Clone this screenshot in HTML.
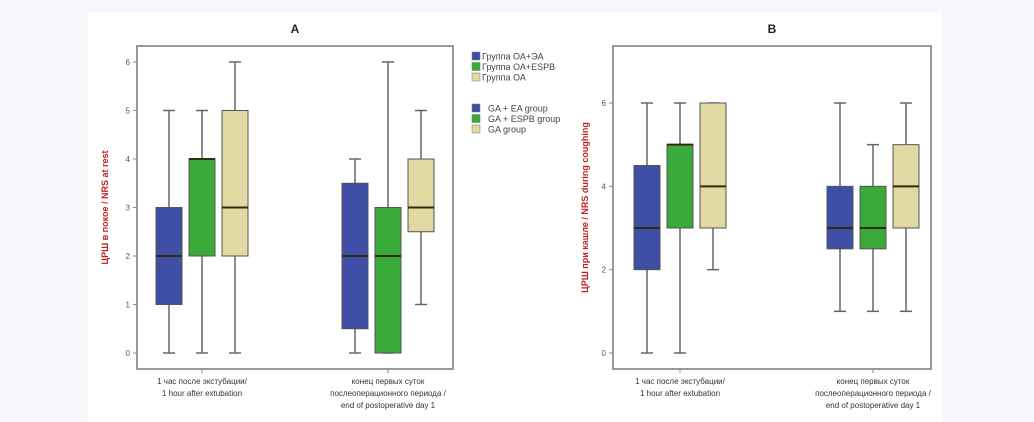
<!DOCTYPE html>
<html><head><meta charset="utf-8"><style>
body{margin:0;background:#f7f7fb;}
svg{display:block;font-family:"Liberation Sans","DejaVu Sans",sans-serif;}
</style></head><body>
<svg id="c" width="1034" height="422" viewBox="0 0 1034 422">
<rect x="88" y="12" width="854" height="410" fill="#ffffff"/>
</svg>
<script>
const categories = ["1 час после экстубации/|1 hour after extubation", "конец первых суток|послеоперационного периода /|end of postoperative day 1"];
const groupColors = ["#3f4fa6", "#3aaa3a", "#e2d8a2"];
// [min, q1, median, q3, max] per category per group
const restBlue = [[0,1,2,3,5],[0,0.5,2,3.5,4]];
const restGreen = [[0,2,4,4,5],[0,0,2,3,6]];
const restTan = [[0,2,3,5,6],[1,2.5,3,4,5]];
const coughBlue = [[0,2,3,4.5,6],[1,2.5,3,4,6]];
const coughGreen = [[0,3,5,5,6],[1,2.5,3,4,5]];
const coughTan = [[2,3,4,6,6],[1,3,4,5,6]];
const ticksA = [0,1,2,3,4,5,6];
const ticksB = [0,2,4,6];
const legendRu = ["Группа ОА+ЭА","Группа ОА+ESPB","Группа ОА"];
const legendEn = ["GA + EA group","GA + ESPB group","GA group"];

const svg = document.getElementById('c');
const NS = 'http://www.w3.org/2000/svg';
function mk(tag, attrs, parent){const e=document.createElementNS(NS,tag);for(const k in attrs)e.setAttribute(k,attrs[k]);(parent||svg).appendChild(e);return e;}

function panel(p){
  const g = mk('g',{});
  
  
  const y = v => p.y0 - (v - p.vmin)/(p.vmax - p.vmin)*(p.y0 - p.y1);
  const fr = mk('rect',{x:p.left,y:p.top,width:p.right-p.left,height:p.bottom-p.top,fill:'none',stroke:'#999',"stroke-width":2},g);
  
  
  const t = mk('text',{x:(p.left+p.right)/2,y:33,"text-anchor":"middle","font-size":12,"font-weight":"bold",fill:"#222"},g);
  t.textContent = p.title;
  
  
  p.ticks.forEach(v=>{
    mk('line',{x1:p.left-4,x2:p.left,y1:y(v),y2:y(v),stroke:'#888'},g);
    const tl = mk('text',{x:p.left-7,y:y(v)+3,"text-anchor":"end","font-size":8,fill:"#555"},g);
    tl.textContent = v;
    
    
  });
  const yt = mk('text',{transform:`translate(${p.ytx},${(p.top+p.bottom)/2}) rotate(-90)`,"text-anchor":"middle","font-size":9,"font-weight":"bold",fill:"#b22"},g);
  yt.textContent = p.ytitle;
  
  
  categories.forEach((c,ci)=>{
    const cx = p.centers[ci];
    mk('line',{x1:cx,x2:cx,y1:p.bottom,y2:p.bottom+4,stroke:'#888'},g);
    c.split('|').forEach((ln,li)=>{
      const xl = mk('text',{x:cx,y:p.bottom+15+li*12,"text-anchor":"middle","font-size":8,fill:"#333"},g);
      xl.textContent = ln;
      
      
    });
    p.series.forEach((s,si)=>{
      const d = s[ci];
      const bx = cx + (si-1)*p.gap - p.bw/2, mx = bx + p.bw/2;
      const bg = mk('g',{},g);
      
      
      mk('line',{x1:mx,x2:mx,y1:y(d[0]),y2:y(d[4]),stroke:'#666',"stroke-width":1.5},bg);
      mk('line',{x1:mx-6,x2:mx+6,y1:y(d[0]),y2:y(d[0]),stroke:'#666',"stroke-width":1.5},bg);
      mk('line',{x1:mx-6,x2:mx+6,y1:y(d[4]),y2:y(d[4]),stroke:'#666',"stroke-width":1.5},bg);
      mk('rect',{x:bx,y:y(d[3]),width:p.bw,height:Math.max(0.5,y(d[1])-y(d[3])),fill:groupColors[si],stroke:'#555',"stroke-width":1},bg);
      mk('line',{x1:bx,x2:bx+p.bw,y1:y(d[2]),y2:y(d[2]),stroke:'#332a10',"stroke-width":2},bg);
    });
  });
}
panel({name:'panel-a',title:'A',left:137,right:453,top:46,bottom:369,vmin:0,vmax:6,y0:353,y1:62,ticks:ticksA,
  ytx:108,ytitle:'ЦРШ в покое / NRS at rest',centers:[202,388],gap:33,bw:26,series:[restBlue,restGreen,restTan]});
panel({name:'panel-b',title:'B',left:613,right:931,top:46,bottom:369,vmin:0,vmax:6,y0:353,y1:103,ticks:ticksB,
  ytx:588,ytitle:'ЦРШ при кашле / NRS during coughing',centers:[680,873],gap:33,bw:26,series:[coughBlue,coughGreen,coughTan]});

function legend(labels, y0, name, dx){
  const g = mk('g',{});
  
  
  labels.forEach((l,i)=>{
    const e = mk('g',{},g);
    
    
    mk('rect',{x:472,y:y0+i*10.5,width:8,height:8,fill:groupColors[i],stroke:'#777',"stroke-width":0.5},e);
    const t = mk('text',{x:472+dx,y:y0+i*10.5+7.5,"font-size":9,fill:"#444"},e);
    t.textContent = l;
  });
}
legend(legendRu, 52, 'legend-russian', 10);
legend(legendEn, 104, 'legend-english', 16);
</script>
</body></html>
